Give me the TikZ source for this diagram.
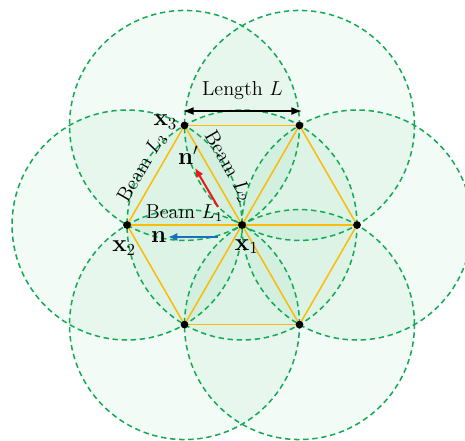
\documentclass[tikz,border=0pt]{standalone}
\usepackage{amsmath}
\usetikzlibrary{arrows.meta,calc}
\definecolor{zonegreen}{RGB}{20,170,85}
\definecolor{beamyellow}{RGB}{250,188,10}
\definecolor{nred}{RGB}{235,25,25}
\definecolor{nblue}{RGB}{25,110,190}

\begin{document}
\begin{tikzpicture}[
  font=\large,
  zone/.style={draw=zonegreen,dash pattern=on 3.2pt off 2.2pt,line width=0.9pt},
  zonefill/.style={fill=zonegreen,fill opacity=0.05},
  beam/.style={draw=beamyellow,line width=0.9pt},
  dot/.style={circle,fill=black,inner sep=0pt,minimum size=4.6pt},
  normal/.style={-{Latex[length=1.9mm,width=1.7mm]},line width=1.2pt},
  dim/.style={{Latex[length=2.2mm]}-{Latex[length=2.2mm]},thick},
  beamword/.style={inner sep=1pt},
  pointword/.style={font=\Large,inner sep=1pt}
]
\def\L{2.4}
\useasboundingbox (-5.051,-4.508) rectangle (4.654,4.696);
% lattice points
\coordinate (c) at (0,0);
\foreach \i in {0,...,5} \coordinate (v\i) at (\i*60:\L);

% zones of influence
\foreach \p in {c,v0,v1,v2,v3,v4,v5} \fill[zonefill] (\p) circle (\L);
\foreach \p in {c,v0,v1,v2,v3,v4,v5} \draw[zone] (\p) circle (\L);

% beams
\foreach \i in {0,...,5} {
  \pgfmathtruncatemacro{\j}{mod(\i+1,6)}
  \draw[beam] (c) -- (v\i);
  \draw[beam] (v\i) -- (v\j);
}

% beam labels
\path (v3) -- node[beamword,above=1pt] (l1) {Beam $L_1$} (c);
\path (v2) -- node[beamword,sloped,above=4pt] (l2) {Beam $L_2$} (c);
\path (v3) -- node[beamword,sloped,above=3pt] (l3) {Beam $L_3$} (v2);

% length
\coordinate (dl) at ($(v2)+(-0.03,0.3)$);
\coordinate (dr) at ($(v1)+(0.05,0.3)$);
\draw[dim] (dl) -- node[above=3pt] (len) {Length $L$} (dr);

% normals
\coordinate (ns) at (-0.50,-0.25);
\coordinate (ne) at (-1.54,-0.25);
\draw[normal,nblue] (ns) -- (ne);
\node[pointword,left] (nlab) at (ne) {$\mathbf{n}$};
\coordinate (ms) at (-0.50,0.376);
\coordinate (me) at (-0.98,1.19);
\draw[normal,nred] (ms) -- (me);
\node[pointword] (mlab) at (-1.12,1.46) {$\mathbf{n}'$};

% points
\foreach \p in {c,v0,v1,v2,v3,v4,v5} \node[dot] (d\p) at (\p) {};
\node[pointword] (lx1) at (0.1,-0.45) {$\mathbf{x}_1$};
\node[pointword] (lx2) at (-2.46,-0.48) {$\mathbf{x}_2$};
\node[pointword] (lx3) at (-1.6,2.15) {$\mathbf{x}_3$};
\end{tikzpicture}
\end{document}
